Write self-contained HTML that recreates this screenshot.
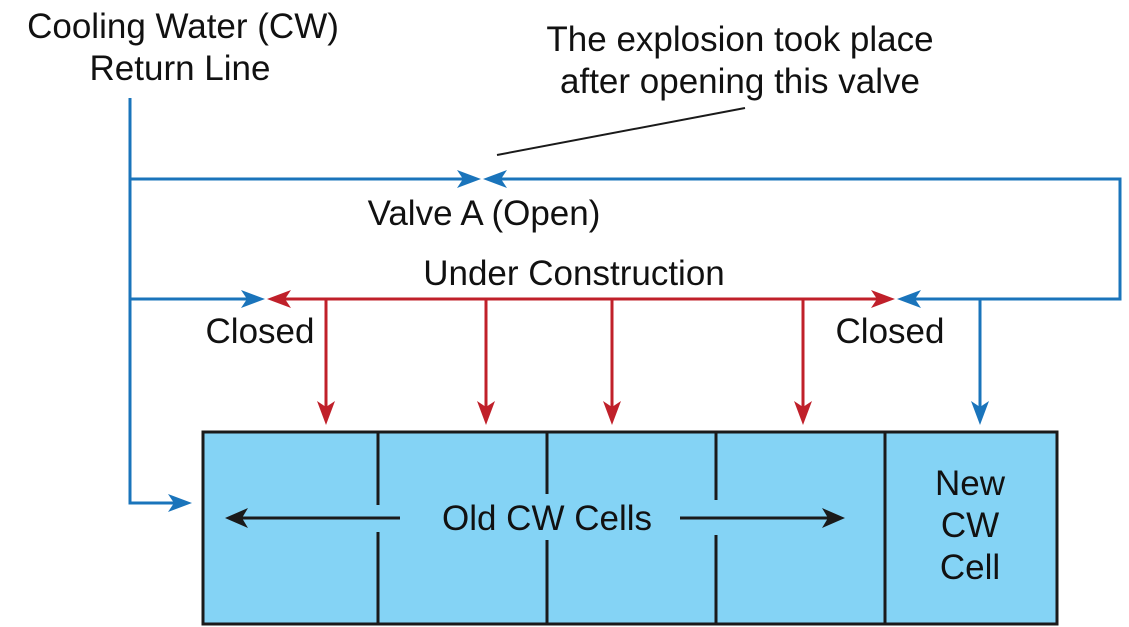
<!DOCTYPE html>
<html><head><style>
html,body{margin:0;padding:0;background:#fff;}
svg{display:block;}
text{font-family:"Liberation Sans",sans-serif;font-size:35px;fill:#111;}
</style></head><body>
<svg width="1129" height="627" viewBox="0 0 1129 627">
<rect x="203" y="432" width="854" height="192" fill="#84d3f5" stroke="#1a1a1a" stroke-width="3"/>
<g stroke="#1a1a1a" stroke-width="3">
<line x1="378" y1="432" x2="378" y2="505"/><line x1="378" y1="532" x2="378" y2="624"/>
<line x1="547" y1="432" x2="547" y2="494"/><line x1="547" y1="540" x2="547" y2="624"/>
<line x1="716" y1="432" x2="716" y2="500"/><line x1="716" y1="535" x2="716" y2="624"/>
<line x1="885" y1="432" x2="885" y2="624"/>
<line x1="400" y1="518" x2="240" y2="518"/>
<line x1="680" y1="518" x2="830" y2="518"/>
<line x1="497" y1="155" x2="745" y2="108" stroke-width="2"/>
</g>
<polygon points="225,518 248,508 242,518 248,528" fill="#1a1a1a"/>
<polygon points="845,518 822,508 828,518 822,528" fill="#1a1a1a"/>
<g stroke="#1a74bb" stroke-width="3" fill="none">
<polyline points="130,98 130,503 178,503"/>
<line x1="130" y1="179" x2="466" y2="179"/>
<polyline points="496,179 1120,179 1120,299 910,299"/>
<line x1="130" y1="299" x2="250" y2="299"/>
<line x1="980" y1="299" x2="980" y2="410"/>
</g>
<g fill="#1a74bb">
<polygon points="192,503 168,494 174,503 168,512"/>
<polygon points="481,179 457,170 463,179 457,188"/>
<polygon points="483,179 507,170 501,179 507,188"/>
<polygon points="265,299 241,290 247,299 241,308"/>
<polygon points="897,299 921,290 915,299 921,308"/>
<polygon points="980,425 971,401 980,407 989,401"/>
</g>
<g stroke="#c0202a" stroke-width="3" fill="none">
<line x1="280" y1="299" x2="882" y2="299"/>
<line x1="326" y1="299" x2="326" y2="410"/>
<line x1="486" y1="299" x2="486" y2="410"/>
<line x1="612" y1="299" x2="612" y2="410"/>
<line x1="803" y1="299" x2="803" y2="410"/>
</g>
<g fill="#c0202a">
<polygon points="267,299 291,290 285,299 291,308"/>
<polygon points="895,299 871,290 877,299 871,308"/>
<polygon points="326,425 317,401 326,407 335,401"/>
<polygon points="486,425 477,401 486,407 495,401"/>
<polygon points="612,425 603,401 612,407 621,401"/>
<polygon points="803,425 794,401 803,407 812,401"/>
</g>
<text x="183" y="38" text-anchor="middle">Cooling Water (CW)</text>
<text x="180" y="80" text-anchor="middle">Return Line</text>
<text x="740" y="51" text-anchor="middle">The explosion took place</text>
<text x="740" y="93" text-anchor="middle">after opening this valve</text>
<text x="484" y="225" text-anchor="middle">Valve A (Open)</text>
<text x="574" y="285" text-anchor="middle">Under Construction</text>
<text x="260" y="343" text-anchor="middle">Closed</text>
<text x="890" y="343" text-anchor="middle">Closed</text>
<text x="547" y="530" text-anchor="middle">Old CW Cells</text>
<text x="970" y="495" text-anchor="middle">New</text>
<text x="970" y="537" text-anchor="middle">CW</text>
<text x="970" y="579" text-anchor="middle">Cell</text>
</svg>
</body></html>
